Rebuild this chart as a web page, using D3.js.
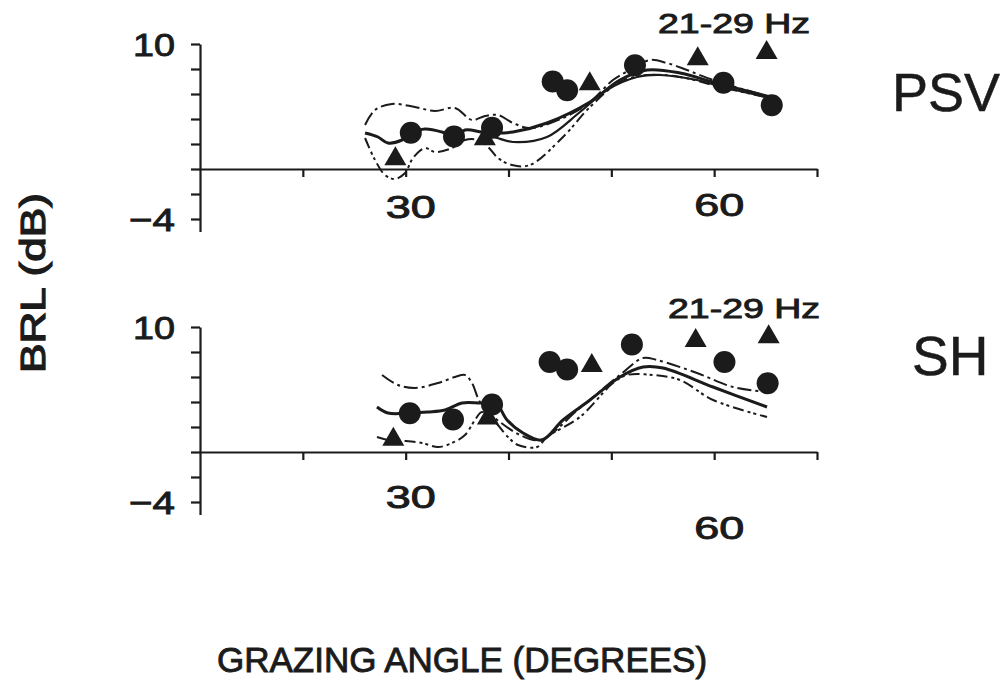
<!DOCTYPE html>
<meta charset="utf-8">
<script src="https://d3js.org/d3.v7.min.js"></script>
<div id="my_dataviz"></div>
<style>
  body { margin: 0; background: #fff; }
  text { font-family: "Liberation Sans", Arial, sans-serif; fill: #1b1b1b; stroke: #1b1b1b; stroke-width: 0.9; }
  .axis path, .axis line { stroke: #1b1b1b; stroke-width: 2.2; }
</style>
<script>

// axis ticks and labels
var angleTicks = [20, 30, 40, 50, 60, 70];
var angleLabels = [30, 60];
var brlTicks = [-4, -2, 0, 2, 4, 6, 8, 10];
var brlLabels = [10, -4];

// PSV panel: measured points
var psvCircleAngle = [30.5, 34.7, 38.4, 44.3, 45.7, 52.3, 60.9, 65.6];
var psvCircleBRL   = [2.9, 2.6, 3.3, 7.0, 6.3, 8.3, 6.9, 5.1];
var psvTriAngle = [29.0, 37.7, 47.9, 58.4, 65.1];
var psvTriBRL   = [0.8, 2.4, 6.8, 8.8, 9.3];

// PSV panel: model curves [angle, BRL]
var psvUpper = [[26.05,3.52],[27.02,4.72],[28.67,5.2],[30.91,4.96],[32.85,4.64],[34.8,4.88],[36.45,3.92],
  [37.72,4.24],[38.98,4.32],[40.44,3.68],[42.09,3.28],[45.3,4.08],[47.93,5.36],[50.16,7.12],[51.82,7.92],
  [53.76,8.72],[55.41,8.48],[57.36,7.92],[59.89,7.12],[65.43,5.76]];
var psvMean = [[26.05,2.88],[27.31,2.56],[28.28,2.08],[29.64,2.32],[30.62,2.88],[31.88,3.2],[33.53,2.96],
  [34.8,2.56],[35.77,3.12],[37.42,2.96],[38.69,2.88],[40.44,2.96],[43.74,3.68],[47.93,5.36],[50.84,7.12],
  [53.47,7.92],[56.68,7.68],[59.89,6.96],[65.43,5.76]];
var psvAlt = [[37.42,2.56],[38.49,2.56],[40.44,2.16],[43.74,2.56],[46.95,4.56],[49.58,6.32],[52.5,7.36],
  [54.73,7.52],[58.33,7.12],[60.86,6.56],[65.43,5.68]];
var psvLower = [[26.05,2.48],[27.02,0.72],[27.99,-0.48],[28.96,-0.8],[29.94,-0.32],[30.71,0.88],[31.88,1.68],
  [32.85,1.36],[34.51,1.68],[35.77,2.32],[37.03,2.32],[38.01,1.76],[38.98,0.88],[40.34,0.32],[42.09,0.32],
  [45.3,2.56],[47.93,4.96],[50.84,6.96],[53.47,7.52],[56.68,7.36],[60.57,6.56],[65.43,5.68]];

// SH panel: measured points
var shCircleAngle = [30.4, 34.6, 38.4, 44.0, 45.7, 52.0, 61.0, 65.2];
var shCircleBRL   = [3.1, 2.6, 3.8, 7.2, 6.6, 8.6, 7.2, 5.5];
var shTriAngle = [28.8, 38.0, 48.1, 58.2, 65.3];
var shTriBRL   = [1.0, 2.7, 6.9, 8.9, 9.2];

// SH panel: model curves [angle, BRL]
var shUpper = [[27.7,6.16],[29.25,5.36],[30.91,5.12],[33.15,5.52],[34.8,6.0],[35.77,6.16],[36.45,5.52],
  [37.03,4.32],[37.72,3.36],[39.17,2.4],[41.12,1.36],[43.06,0.96],[46.95,3.52],[50.84,6.16],[53.08,7.52],
  [54.44,7.36],[58.33,6.32],[61.83,5.2],[65.14,4.8]];
var shMean = [[27.21,3.6],[28.28,3.12],[30.42,3.12],[32.17,3.2],[33.83,3.36],[35.48,3.92],[37.42,3.92],
  [38.69,4.0],[39.86,2.56],[41.41,1.52],[43.26,0.96],[45.3,2.56],[47.93,4.16],[50.84,6.0],[53.08,6.8],
  [55.03,6.72],[59.89,5.2],[65.14,3.6]];
var shLower = [[27.21,1.2],[28.28,0.96],[29.94,0.88],[31.59,0.72],[33.15,0.4],[34.51,0.72],[35.77,1.36],
  [36.74,2.56],[37.42,3.2],[38.69,2.4],[39.95,1.2],[40.92,0.56],[42.77,0.4],[43.74,1.2],[46.95,2.8],
  [50.16,5.52],[51.52,6.16],[54.05,6.16],[56.68,5.76],[59.89,4.16],[65.14,2.8]];

var width = 1008, height = 695;

var svg = d3.select("#my_dataviz")
  .append("svg")
    .attr("width", width)
    .attr("height", height);

var x = d3.scaleLinear().domain([10, 70]).range([200, 817]);

var panels = [
  { name: "PSV", y0: 169, nameX: 892, nameY: 111, nameSize: 54,
    hzX: 658, hzY: 24, labelDy: [38, 36],
    circA: psvCircleAngle, circV: psvCircleBRL, triA: psvTriAngle, triV: psvTriBRL,
    curves: [[psvUpper, "dashdot"], [psvLower, "dashdotdot"], [psvAlt, "thin"], [psvMean, "solid"]] },
  { name: "SH", y0: 452, nameX: 912, nameY: 375, nameSize: 55,
    hzX: 668, hzY: 309, labelDy: [45, 76],
    circA: shCircleAngle, circV: shCircleBRL, triA: shTriAngle, triV: shTriBRL,
    curves: [[shUpper, "dashdot"], [shLower, "dashdotdot"], [shMean, "solid"]] }
];

var lineStyles = {
  solid:      { w: 3.0, dash: null },
  thin:       { w: 2.2, dash: null },
  dashdot:    { w: 2.0, dash: "14,4,3,4" },
  dashdotdot: { w: 2.0, dash: "11,4,3,3,3,4" }
};

panels.forEach(function(p) {
  var y = d3.scaleLinear().domain([-5, 10]).range([p.y0 + 62.5, p.y0 - 125]);
  var g = svg.append("g");

  // Y axis
  g.append("g")
    .attr("class", "axis")
    .attr("transform", "translate(" + x(10) + ",0)")
    .call(d3.axisLeft(y).tickValues(brlTicks).tickSize(9).tickSizeOuter(0).tickFormat(""));

  // zero line with angle ticks
  g.append("g")
    .attr("class", "axis")
    .attr("transform", "translate(0," + y(0) + ")")
    .call(d3.axisBottom(x).tickValues(angleTicks).tickSize(8).tickSizeOuter(0).tickFormat(""));

  // y labels
  brlLabels.forEach(function(v) {
    var s = v < 0 ? "\u2212" + Math.abs(v) : String(v);
    var len = v < 0 ? 46 : 42;
    g.append("text")
      .attr("x", 175 - len)
      .attr("y", y(v) + 1)
      .attr("dominant-baseline", "central")
      .attr("font-size", 32)
      .attr("textLength", len)
      .attr("lengthAdjust", "spacingAndGlyphs")
      .text(s);
  });

  // x labels
  angleLabels.forEach(function(v, i) {
    g.append("text")
      .attr("x", x(v) + 5 - 25)
      .attr("y", y(0) + p.labelDy[i])
      .attr("dominant-baseline", "central")
      .attr("font-size", 31)
      .attr("textLength", 50)
      .attr("lengthAdjust", "spacingAndGlyphs")
      .text(v);
  });

  // curves
  var line = d3.line()
    .x(function(d) { return x(d[0]); })
    .y(function(d) { return y(d[1]); })
    .curve(d3.curveCatmullRom.alpha(0.5));

  p.curves.forEach(function(c) {
    var st = lineStyles[c[1]];
    g.append("path")
      .datum(c[0])
      .attr("d", line)
      .attr("fill", "none")
      .attr("stroke", "#1b1b1b")
      .attr("stroke-width", st.w)
      .attr("stroke-dasharray", st.dash);
  });

  // triangles
  g.selectAll("tri")
    .data(d3.zip(p.triA, p.triV))
    .enter()
    .append("path")
      .attr("d", d3.symbol().type(d3.symbolTriangle).size(210))
      .attr("transform", function(d) { return "translate(" + x(d[0]) + "," + y(d[1]) + ")"; })
      .attr("fill", "#1b1b1b");

  // circles
  g.selectAll("circ")
    .data(d3.zip(p.circA, p.circV))
    .enter()
    .append("circle")
      .attr("cx", function(d) { return x(d[0]); })
      .attr("cy", function(d) { return y(d[1]); })
      .attr("r", 11)
      .attr("fill", "#1b1b1b");

  // frequency note
  g.append("text")
    .attr("x", p.hzX)
    .attr("y", p.hzY)
    .attr("dominant-baseline", "central")
    .attr("font-size", 27)
    .attr("textLength", 152)
    .attr("lengthAdjust", "spacingAndGlyphs")
    .text("21-29 Hz");

  // panel name
  g.append("text")
    .attr("x", p.nameX)
    .attr("y", p.nameY)
    .attr("font-size", p.nameSize)
    .style("stroke-width", 0.5)
    .text(p.name);
});

// axis titles
svg.append("text")
  .attr("transform", "translate(45,283)rotate(-90)")
  .attr("text-anchor", "middle")
  .attr("font-size", 35)
  .attr("textLength", 180)
  .attr("lengthAdjust", "spacingAndGlyphs")
  .style("stroke-width", 1.2)
  .text("BRL (dB)");

svg.append("text")
  .attr("x", 217)
  .attr("y", 672)
  .attr("font-size", 35)
  .text("GRAZING ANGLE (DEGREES)");

</script>
